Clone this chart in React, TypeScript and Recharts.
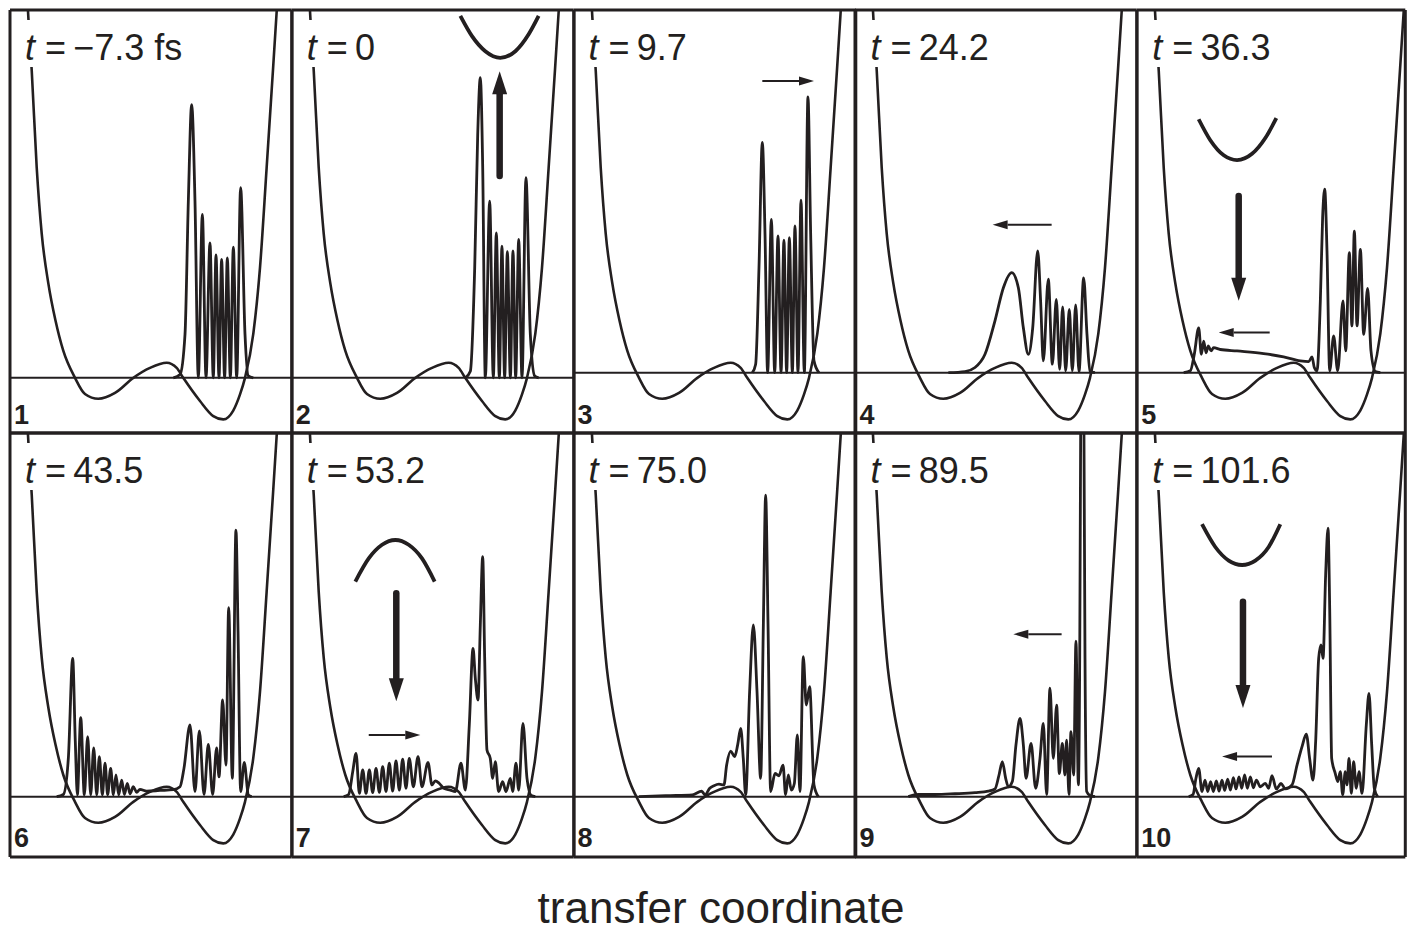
import React from "react";
import { LineChart, Line, XAxis, YAxis, ReferenceLine } from "recharts";

const INK = "#231f20";
const FONT = "'Liberation Sans', Arial, Helvetica, sans-serif";

type Pt = [number, number];
type Arrow = { tail: Pt; head: Pt; heavy: boolean };

// ground-state double-well potential along the transfer coordinate (same in every panel)
const potential: Pt[] = [
  [-1.346, 108], [-1.332, 99.8], [-1.296, 83.5], [-1.248, 57.1], [-1.2, 39.2],
  [-1.136, 25.6], [-1.067, 15.5], [-0.992, 7.3], [-0.88, 0], [-0.784, -4.4],
  [-0.656, -5.7], [-0.495, -4.1], [-0.319, 0], [-0.159, 2.7], [0.002, 4.1],
  [0.098, 2.7], [0.161, 0], [0.322, -6.3], [0.45, -10.4], [0.546, -11.3],
  [0.642, -8.9], [0.707, -4.5], [0.755, 0], [0.835, 12.0], [0.899, 29.9],
  [0.963, 57.1], [1.011, 78.0], [1.06, 99.8], [1.077, 108],
];

const timeLabels = ["\u22127.3 fs", "0", "9.7", "24.2", "36.3", "43.5", "53.2", "75.0", "89.5", "101.6"];
const panelNumbers = ["1", "2", "3", "4", "5", "6", "7", "8", "9", "10"];

// energy of the wave-packet zero line in each panel
const baselineLevels = [0, 0, 1.4, 1.4, 1.4, 1.4, 1.4, 1.4, 1.4, 1.4];

// wave-packet densities (relative to the zero line)
const packet1: Pt[] = [
  [0.066, 0], [0.13, 0.9], [0.178, 11.8], [0.21, 48.0], [0.242, 74.3], [0.274, 48.0],
  [0.306, 0], [0.345, 44.4], [0.38, 0], [0.418, 36.7], [0.45, 0], [0.476, 33.4],
  [0.505, 0], [0.53, 32.2], [0.559, 0], [0.585, 32.6], [0.614, 0], [0.643, 35.5],
  [0.675, 0], [0.713, 51.7], [0.755, 11.8], [0.787, 0.5], [0.835, 0],
];
const packet2: Pt[] = [
  [0.162, 0], [0.21, 1.8], [0.252, 29.9], [0.281, 66.2], [0.306, 81.6], [0.329, 57.1],
  [0.354, 0], [0.396, 48.0], [0.431, 0], [0.46, 39.4], [0.489, 0], [0.514, 35.8],
  [0.54, 0], [0.566, 34.3], [0.595, 0], [0.62, 34.5], [0.646, 0], [0.675, 37.6],
  [0.707, 0], [0.745, 54.4], [0.787, 11.8], [0.829, 0.5], [0.867, 0],
];
const packet3: Pt[] = [
  [0.21, 0], [0.242, 2.3], [0.274, 28.6], [0.306, 62.6], [0.332, 37.6], [0.357, 0],
  [0.393, 41.7], [0.425, 0], [0.457, 37.2], [0.486, 0], [0.514, 36.0], [0.54, 0],
  [0.566, 36.7], [0.595, 0], [0.62, 39.9], [0.649, 0], [0.678, 46.9], [0.71, 0],
  [0.745, 75.0], [0.771, 37.6], [0.803, 3.2], [0.851, 0],
];
const packet4: Pt[] = [
  [-0.607, 0], [-0.447, 0.3], [-0.351, 1.4], [-0.255, 5.0], [-0.159, 14.1], [-0.078, 23.1],
  [0.002, 27.2], [0.066, 23.1], [0.114, 12.2], [0.162, 5.0], [0.204, 12.2], [0.252, 33.1],
  [0.28, 19.5], [0.306, 3.2], [0.354, 25.4], [0.393, 2.3], [0.431, 19.9], [0.463, 0.9],
  [0.492, 17.9], [0.521, 0.5], [0.556, 17.2], [0.585, 0.5], [0.617, 18.4], [0.649, 0.3],
  [0.694, 25.8], [0.726, 10.4], [0.755, 0.3], [0.803, 0],
];
const packet5: Pt[] = [
  [-1.056, 0], [-0.992, 0.5], [-0.954, 5.0], [-0.912, 12.2], [-0.886, 5.0], [-0.864, 8.6],
  [-0.841, 5.4], [-0.819, 7.3], [-0.793, 5.9], [-0.768, 6.8], [-0.704, 6.3], [-0.543, 5.9],
  [-0.287, 5.2], [-0.095, 4.3], [0.066, 3.2], [0.146, 3.0], [0.178, 4.3], [0.2, 1.4],
  [0.226, 0.5], [0.258, 19.5], [0.28, 42.2], [0.3, 49.9], [0.322, 33.1], [0.348, 0.5],
  [0.386, 10.0], [0.425, 0.5], [0.476, 19.5], [0.502, 5.9], [0.537, 32.6], [0.562, 12.7],
  [0.585, 38.5], [0.611, 12.7], [0.643, 33.5], [0.675, 10.4], [0.713, 22.9], [0.745, 5.9],
  [0.787, 0.3], [0.835, 0],
];
const packet6: Pt[] = [
  [-1.056, 0], [-0.992, 0.6], [-0.944, 10.4], [-0.902, 37.6], [-0.877, 15.0], [-0.857, 0.5],
  [-0.825, 21.5], [-0.79, 0.5], [-0.758, 16.3], [-0.729, 0.5], [-0.7, 13.3], [-0.671, 0.5],
  [-0.646, 10.9], [-0.617, 0.5], [-0.591, 9.1], [-0.566, 0.5], [-0.537, 7.7], [-0.511, 0.5],
  [-0.486, 5.9], [-0.46, 0.5], [-0.431, 4.5], [-0.405, 0.6], [-0.377, 3.6], [-0.351, 0.8],
  [-0.319, 2.7], [-0.287, 1.2], [-0.255, 2.0], [-0.191, 1.5], [-0.063, 1.7], [0.066, 1.9],
  [0.13, 2.7], [0.168, 7.7], [0.226, 19.5], [0.274, 1.4], [0.316, 17.9], [0.361, 0.6],
  [0.402, 14.2], [0.444, 0.6], [0.482, 13.3], [0.505, 5.4], [0.54, 26.3], [0.572, 8.6],
  [0.598, 51.4], [0.633, 5.0], [0.668, 72.5], [0.688, 44.9], [0.713, 1.4], [0.748, 9.3],
  [0.787, 0.5], [0.819, 0],
];
const packet7: Pt[] = [
  [-1.008, 0], [-0.96, 0.6], [-0.921, 6.8], [-0.889, 11.8], [-0.857, 0.9], [-0.825, 7.3],
  [-0.793, 0.9], [-0.761, 7.3], [-0.729, 1.1], [-0.697, 7.7], [-0.665, 1.2], [-0.633, 8.2],
  [-0.601, 1.4], [-0.569, 9.1], [-0.537, 1.5], [-0.505, 9.7], [-0.473, 1.8], [-0.441, 10.2],
  [-0.409, 2.3], [-0.377, 10.4], [-0.338, 2.7], [-0.293, 10.9], [-0.255, 2.7], [-0.197, 9.3],
  [-0.159, 3.2], [-0.127, 4.3], [-0.088, 3.6], [-0.046, 2.3], [0.018, 1.8], [0.066, 1.4],
  [0.12, 9.1], [0.162, 1.8], [0.2, 19.5], [0.236, 40.3], [0.258, 32.2], [0.284, 26.3],
  [0.306, 46.7], [0.329, 65.3], [0.348, 37.6], [0.37, 12.7], [0.402, 10.4], [0.425, 5.0],
  [0.45, 9.5], [0.482, 1.4], [0.521, 4.1], [0.553, 1.4], [0.595, 5.0], [0.617, 1.4],
  [0.649, 9.1], [0.675, 1.8], [0.716, 19.9], [0.755, 5.0], [0.796, 0.3], [0.835, 0],
];
const packet8: Pt[] = [
  [-0.88, 0], [-0.623, 0.3], [-0.367, 0.5], [-0.277, 1.5], [-0.245, 0.5], [-0.2, 2.3],
  [-0.159, 3.0], [-0.111, 3.4], [-0.063, 3.2], [-0.037, 8.6], [0.002, 12.4], [0.04, 10.9],
  [0.069, 14.1], [0.098, 18.6], [0.123, 10.4], [0.146, 0.5], [0.184, 28.6], [0.22, 46.7],
  [0.255, 28.6], [0.29, 5.0], [0.316, 46.7], [0.338, 82.0], [0.361, 46.7], [0.386, 1.4],
  [0.428, 6.3], [0.466, 5.7], [0.505, 8.6], [0.53, 0.5], [0.556, 5.9], [0.585, 1.8],
  [0.614, 3.6], [0.643, 16.8], [0.668, 1.4], [0.7, 38.1], [0.729, 24.9], [0.761, 29.9],
  [0.803, 3.2], [0.845, 0],
];
const packet9: Pt[] = [
  [-0.992, 0], [-0.896, 0.6], [-0.736, 0.6], [-0.543, 0.8], [-0.351, 1.1], [-0.223, 1.5],
  [-0.159, 2.1], [-0.12, 5.9], [-0.088, 9.5], [-0.056, 5.0], [-0.03, 2.7], [0.008, 4.1],
  [0.043, 14.1], [0.082, 21.3], [0.114, 14.1], [0.14, 5.0], [0.188, 14.5], [0.232, 2.3],
  [0.274, 10.4], [0.306, 19.9], [0.338, 0.6], [0.37, 29.5], [0.402, 10.4], [0.434, 24.9],
  [0.46, 6.3], [0.489, 14.5], [0.514, 5.9], [0.53, 15.4], [0.553, 0.6], [0.572, 17.7],
  [0.598, 5.9], [0.62, 42.3], [0.643, 3.2], [0.656, 37.6], [0.665, 98.4], [0.681, 183],
  [0.697, 98.4], [0.707, 37.6], [0.723, 1.4], [0.755, 0.3], [0.803, 0],
];
const packet10: Pt[] = [
  [-1.008, 0], [-0.966, 0.6], [-0.938, 5.0], [-0.912, 7.7], [-0.88, 1.4], [-0.851, 4.5],
  [-0.825, 1.4], [-0.797, 4.1], [-0.771, 1.4], [-0.742, 4.3], [-0.716, 1.5], [-0.688, 4.5],
  [-0.662, 1.7], [-0.633, 4.8], [-0.607, 1.8], [-0.578, 5.2], [-0.553, 2.1], [-0.524, 5.4],
  [-0.498, 2.3], [-0.47, 5.9], [-0.444, 2.3], [-0.415, 5.4], [-0.386, 2.4], [-0.357, 4.5],
  [-0.319, 2.7], [-0.271, 3.6], [-0.239, 2.3], [-0.207, 5.7], [-0.165, 2.1], [-0.12, 3.6],
  [-0.079, 2.1], [-0.014, 3.2], [0.034, 8.6], [0.082, 13.6], [0.123, 17.0], [0.155, 10.4],
  [0.188, 4.5], [0.213, 15.0], [0.242, 37.6], [0.264, 41.3], [0.284, 37.6], [0.309, 60.3],
  [0.332, 73.0], [0.348, 51.2], [0.367, 10.4], [0.402, 6.3], [0.425, 4.1], [0.45, 6.8],
  [0.473, 0.5], [0.498, 6.8], [0.514, 3.2], [0.534, 10.4], [0.556, 0.9], [0.578, 9.5],
  [0.604, 2.3], [0.63, 6.8], [0.659, 0.9], [0.7, 19.5], [0.726, 28.1], [0.752, 14.1],
  [0.777, 2.3], [0.809, 0],
];
const packets = [packet1, packet2, packet3, packet4, packet5, packet6, packet7, packet8, packet9, packet10];

// fragments of the upper-state potential
const upper2: Pt[] = [[0.114, 98.4], [0.226, 92.9], [0.354, 88.8], [0.498, 87.0], [0.643, 88.8], [0.771, 93.4], [0.867, 98.4]];
const upper5: Pt[] = [[-0.912, 68.9], [-0.8, 63.2], [-0.671, 59.1], [-0.543, 57.8], [-0.399, 59.5], [-0.271, 63.8], [-0.165, 69.2]];
const upper7: Pt[] = [[-0.896, 58.5], [-0.767, 64.8], [-0.639, 68.5], [-0.511, 69.8], [-0.383, 68.5], [-0.255, 64.8], [-0.133, 58.5]];
const upper10: Pt[] = [[-0.88, 74.1], [-0.752, 67.9], [-0.623, 64.2], [-0.495, 63.0], [-0.367, 64.2], [-0.239, 67.9], [-0.127, 74.1]];
const upperCurves: (Pt[] | null)[] = [null, upper2, null, null, upper5, null, upper7, null, null, upper10];

// arrows: tail and base of the arrow head
const arrows: Arrow[][] = [
  [],
  [{ tail: [0.492, 54.9], head: [0.492, 77.1], heavy: true }],
  [{ tail: [0.306, 79.3], head: [0.659, 79.3], heavy: false }],
  [{ tail: [0.386, 40.2], head: [-0.037, 40.2], heavy: false }],
  [
    { tail: [-0.527, 48.0], head: [-0.527, 25.8], heavy: true },
    { tail: [-0.229, 10.9], head: [-0.575, 10.9], heavy: false },
  ],
  [],
  [
    { tail: [-0.502, 55.3], head: [-0.502, 32.2], heavy: true },
    { tail: [-0.767, 16.8], head: [-0.415, 16.8], heavy: false },
  ],
  [],
  [{ tail: [0.482, 44.2], head: [0.162, 44.2], heavy: false }],
  [
    { tail: [-0.486, 53.0], head: [-0.486, 30.4], heavy: true },
    { tail: [-0.207, 10.9], head: [-0.543, 10.9], heavy: false },
  ],
];

const xTicks = [-1, 0, 1];
const yTicks = [4, 28, 52, 76];
const xMin = -1.505;
const xMaxByCol = [1.205, 1.205, 1.205, 1.205, 1.075];
const yDomainByRow: [number, number][] = [[-15, 100], [-15, 100.3]];

// layout
const PAD = 12;
const AX = 0.01; // near-zero axis thickness so axes still render
const COL_LEFT = [10, 291.8, 573.6, 855.4, 1137.2];
const COL_WIDTH = [281.8, 281.8, 281.8, 281.8, 268.3];
const ROW_TOP = [10, 433];
const ROW_HEIGHT = [423, 424];

const arrowHead = (a: Arrow, key: string) => (props: any) => {
  const { cx, cy, index } = props;
  if (index !== 1 || cx == null) return <g key={`${key}-${index}`} />;
  const len = a.heavy ? 23 : 15;
  const half = a.heavy ? 7.5 : 4.5;
  const horiz = a.tail[1] === a.head[1];
  const ux = horiz ? Math.sign(a.head[0] - a.tail[0]) : 0;
  const uy = horiz ? 0 : -Math.sign(a.head[1] - a.tail[1]);
  const tx = cx + ux * len;
  const ty = cy + uy * len;
  const px = -uy;
  const py = ux;
  const d = `M${tx},${ty}L${cx + px * half},${cy + py * half}L${cx - px * half},${cy - py * half}Z`;
  return <path key={`${key}-${index}`} d={d} fill={INK} stroke="none" />;
};

function Panel({ i }: { i: number }) {
  const row = Math.floor(i / 5);
  const col = i % 5;
  const w = COL_WIDTH[col];
  const h = ROW_HEIGHT[row];
  const lvl = baselineLevels[i];
  const lift = (pts: Pt[]) => pts.map(([x, y]) => ({ x, y: y + lvl }));
  const pot = potential.map(([x, y]) => ({ x, y }));
  const upper = upperCurves[i];
  const xd: [number, number] = [xMin, xMaxByCol[col]];
  const yd = yDomainByRow[row];
  const frame = { stroke: INK, strokeWidth: 3 };
  const tickStyle = { stroke: INK, strokeWidth: 1.4 };

  return (
    <div style={{ position: "absolute", left: COL_LEFT[col] - PAD, top: ROW_TOP[row] - PAD }}>
      <LineChart width={w + 2 * PAD} height={h + 2 * PAD} margin={{ top: PAD, right: PAD, bottom: PAD - AX, left: PAD }}>
        <XAxis type="number" dataKey="x" domain={xd} allowDataOverflow ticks={xTicks} tick={false}
          tickSize={5} height={AX} axisLine={frame} tickLine={tickStyle} />
        <XAxis xAxisId="t" orientation="top" type="number" dataKey="x" domain={xd} allowDataOverflow
          ticks={xTicks} tick={false} tickSize={4} mirror height={AX} axisLine={frame} tickLine={tickStyle} />
        <YAxis type="number" domain={yd} allowDataOverflow ticks={yTicks} tick={false} tickSize={4}
          mirror width={AX} axisLine={frame} tickLine={tickStyle} />
        <YAxis yAxisId="r" orientation="right" type="number" domain={yd} allowDataOverflow ticks={yTicks}
          tick={false} tickSize={4} mirror width={AX} axisLine={frame} tickLine={tickStyle} />
        <ReferenceLine y={lvl} stroke={INK} strokeWidth={2} />
        <Line data={pot} dataKey="y" type="monotone" stroke={INK} strokeWidth={2.6}
          dot={false} activeDot={false} isAnimationActive={false} />
        <Line data={lift(packets[i])} dataKey="y" type="monotone" stroke={INK} strokeWidth={2.8}
          strokeLinejoin="round" dot={false} activeDot={false} isAnimationActive={false} />
        {upper && (
          <Line data={lift(upper)} dataKey="y" type="monotone" stroke={INK} strokeWidth={3.8}
            dot={false} activeDot={false} isAnimationActive={false} />
        )}
        {arrows[i].map((a, k) => (
          <Line key={`a${k}`} data={lift([a.tail, a.head])} dataKey="y" type="linear" stroke={INK}
            strokeWidth={a.heavy ? 6.5 : 2} strokeLinecap={a.heavy ? "round" : "butt"}
            dot={arrowHead(a, `p${i}a${k}`)} activeDot={false} isAnimationActive={false} />
        ))}
      </LineChart>
      <div style={{ position: "absolute", left: PAD + 11, top: PAD + 10, height: 47, boxSizing: "border-box",
        paddingTop: 9.5, paddingLeft: 4, paddingRight: 4, background: "#fff", fontFamily: FONT,
        fontSize: 36, lineHeight: "36px", color: INK, whiteSpace: "pre" }}>
        <span style={{ fontStyle: "italic" }}>t</span>
        {" =\u2009" + timeLabels[i]}
      </div>
      <div style={{ position: "absolute", left: PAD + 4, top: PAD + 392, fontFamily: FONT, fontWeight: "bold",
        fontSize: 27, lineHeight: "27px", color: INK }}>
        {panelNumbers[i]}
      </div>
    </div>
  );
}

export default function App() {
  return (
    <div style={{ position: "absolute", left: 0, top: 0, width: 1407, height: 933, overflow: "hidden", background: "#fff" }}>
      {panelNumbers.map((_, i) => (
        <Panel key={i} i={i} />
      ))}
      <div style={{ position: "absolute", left: 35, top: 886, width: 1372, textAlign: "center", fontFamily: FONT,
        fontSize: 44, lineHeight: "44px", color: INK, whiteSpace: "nowrap" }}>
        transfer coordinate
      </div>
    </div>
  );
}
